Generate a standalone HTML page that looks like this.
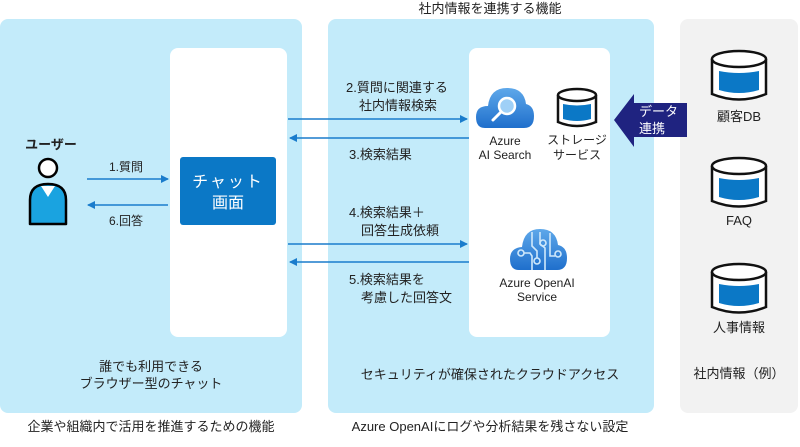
<!DOCTYPE html>
<html><head><meta charset="utf-8"><style>
html,body{margin:0;padding:0;background:#fff;}
svg{display:block;}
text{font-family:"Liberation Sans","Noto Sans CJK JP",sans-serif;fill:#222;}
</style></head><body>
<svg width="800" height="447" viewBox="0 0 800 447" xmlns="http://www.w3.org/2000/svg">
<defs>
<marker id="ah" markerWidth="8" markerHeight="8" refX="7" refY="4" orient="auto" markerUnits="userSpaceOnUse">
<path d="M0,0 L8,4 L0,8 z" fill="#1a7ccc"/></marker>
<linearGradient id="cg" x1="0" y1="0" x2="0" y2="1"><stop offset="0" stop-color="#5ea8ea"/><stop offset="1" stop-color="#1f6fcc"/></linearGradient>
</defs>
<!-- panels -->
<rect x="0" y="19" width="302" height="394" rx="8" fill="#c3ebfa"/>
<rect x="328" y="19" width="326" height="394" rx="8" fill="#c3ebfa"/>
<rect x="680" y="19" width="118" height="394" rx="8" fill="#f2f2f2"/>
<rect x="170" y="48" width="117" height="289" rx="8" fill="#fff"/>
<rect x="469" y="48" width="141" height="289" rx="8" fill="#fff"/>
<rect x="180" y="157" width="96" height="68" rx="3" fill="#0b78c6"/>
<text x="228" y="187" font-size="16" text-anchor="middle" style="fill:#fff" letter-spacing="2">チャット</text>
<text x="228" y="208" font-size="16" text-anchor="middle" style="fill:#fff">画面</text>

<text x="490" y="13" font-size="13" text-anchor="middle">社内情報を連携する機能</text>

<!-- user -->
<text x="51" y="149" font-size="13" text-anchor="middle" font-weight="bold">ユーザー</text>
<circle cx="48" cy="168" r="9" fill="#fff" stroke="#000" stroke-width="2.5"/>
<path d="M30,224 L30,200 Q30,184 48,184 Q66,184 66,200 L66,224 Z" fill="#1aa3e0" stroke="#000" stroke-width="2.5" stroke-linejoin="round"/>
<path d="M41,186 L48,197 L55,186 Z" fill="#fff"/>

<!-- arrows left -->
<line x1="87" y1="179" x2="168" y2="179" stroke="#1a7ccc" stroke-width="1.5" marker-end="url(#ah)"/>
<line x1="168" y1="205" x2="88" y2="205" stroke="#1a7ccc" stroke-width="1.5" marker-end="url(#ah)"/>
<text x="126" y="171" font-size="12" text-anchor="middle">1.質問</text>
<text x="126" y="225" font-size="12" text-anchor="middle">6.回答</text>

<!-- middle arrows -->
<line x1="288" y1="119" x2="467" y2="119" stroke="#1a7ccc" stroke-width="1.5" marker-end="url(#ah)"/>
<line x1="469" y1="138" x2="290" y2="138" stroke="#1a7ccc" stroke-width="1.5" marker-end="url(#ah)"/>
<line x1="288" y1="244" x2="467" y2="244" stroke="#1a7ccc" stroke-width="1.5" marker-end="url(#ah)"/>
<line x1="469" y1="262" x2="290" y2="262" stroke="#1a7ccc" stroke-width="1.5" marker-end="url(#ah)"/>
<text x="346" y="92" font-size="13">2.質問に関連する</text>
<text x="359" y="110" font-size="13">社内情報検索</text>
<text x="349" y="159" font-size="13">3.検索結果</text>
<text x="349" y="217" font-size="13">4.検索結果＋</text>
<text x="361" y="235" font-size="13">回答生成依頼</text>
<text x="349" y="284" font-size="13">5.検索結果を</text>
<text x="361" y="302" font-size="13">考慮した回答文</text>

<!-- search icon -->
<path d="M485,128 Q476,128 476,117 Q476,106 488,106 Q490,88 507,88 Q524,88 526,104 Q534,106 534,116 Q534,128 524,128 Z" fill="url(#cg)"/>
<circle cx="507" cy="106" r="8" fill="#9fd0f7" stroke="#fff" stroke-width="2.5"/>
<line x1="501" y1="112" x2="493" y2="120" stroke="#fff" stroke-width="3" stroke-linecap="round"/>
<text x="505" y="145" font-size="12" text-anchor="middle">Azure</text>
<text x="505" y="159" font-size="12" text-anchor="middle">AI Search</text>

<!-- storage -->
<g transform="translate(557,88)">
<path d="M1,7 L1,34 Q20,42 39,34 L39,7" fill="#fff" stroke="#111" stroke-width="2.5"/>
<ellipse cx="20" cy="7" rx="19" ry="6" fill="#fff" stroke="#111" stroke-width="2.5"/>
<path d="M6,16 Q20,19 34,16 L34,31 Q20,35 6,31 Z" fill="#0b78c6"/>
</g>
<text x="577" y="144" font-size="12" text-anchor="middle">ストレージ</text>
<text x="577" y="159" font-size="12" text-anchor="middle">サービス</text>

<!-- openai icon -->
<path d="M519,270 Q510,270 510,259 Q510,248 522,247 Q524,229 540,229 Q556,229 558,245 Q567,247 567,258 Q567,270 557,270 Z" fill="url(#cg)"/>
<g stroke="#cfe8fb" stroke-width="1.6" fill="none">
<path d="M532,232 L532,246 L537,251 L537,258"/><circle cx="537" cy="261" r="3"/>
<path d="M524,253 L530,253 L532,256 L532,270"/><circle cx="521" cy="253" r="3"/>
<path d="M540,232 L540,244 L545,248 L545,270"/><circle cx="543" cy="243" r="3"/>
<path d="M550,233 L550,256 L555,256"/><circle cx="558" cy="254" r="3"/>
</g>
<text x="537" y="287" font-size="12" text-anchor="middle">Azure OpenAI</text>
<text x="537" y="301" font-size="12" text-anchor="middle">Service</text>

<!-- data arrow -->
<path d="M614,120 L634,94 L634,103 L687,103 L687,137 L634,137 L634,147 Z" fill="#1f2380"/>
<text x="639" y="116" font-size="13" style="fill:#fff">データ</text>
<text x="639" y="133" font-size="13" style="fill:#fff">連携</text>

<!-- right cylinders -->
<g id="cyl" transform="translate(711,50)">
<path d="M1,9 L1,44 Q28,55 55,44 L55,9" fill="#fff" stroke="#111" stroke-width="2.5"/>
<ellipse cx="28" cy="9" rx="27" ry="8" fill="#fff" stroke="#111" stroke-width="2.5"/>
<path d="M8,21 Q28,25 48,21 L48,40 Q28,46 8,40 Z" fill="#0b78c6"/>
</g>
<use href="#cyl" transform="translate(0,107)"/>
<use href="#cyl" transform="translate(0,213)"/>
<text x="739" y="121" font-size="13" text-anchor="middle">顧客DB</text>
<text x="739" y="225" font-size="13" text-anchor="middle">FAQ</text>
<text x="739" y="332" font-size="13" text-anchor="middle">人事情報</text>
<text x="739" y="378" font-size="13" text-anchor="middle">社内情報（例）</text>

<!-- bottom labels -->
<text x="151" y="371" font-size="13" text-anchor="middle">誰でも利用できる</text>
<text x="151" y="388" font-size="13" text-anchor="middle">ブラウザー型のチャット</text>
<text x="490" y="379" font-size="13" text-anchor="middle">セキュリティが確保されたクラウドアクセス</text>
<text x="151" y="431" font-size="13" text-anchor="middle">企業や組織内で活用を推進するための機能</text>
<text x="490" y="431" font-size="13" text-anchor="middle">Azure OpenAIにログや分析結果を残さない設定</text>
</svg>
</body></html>
